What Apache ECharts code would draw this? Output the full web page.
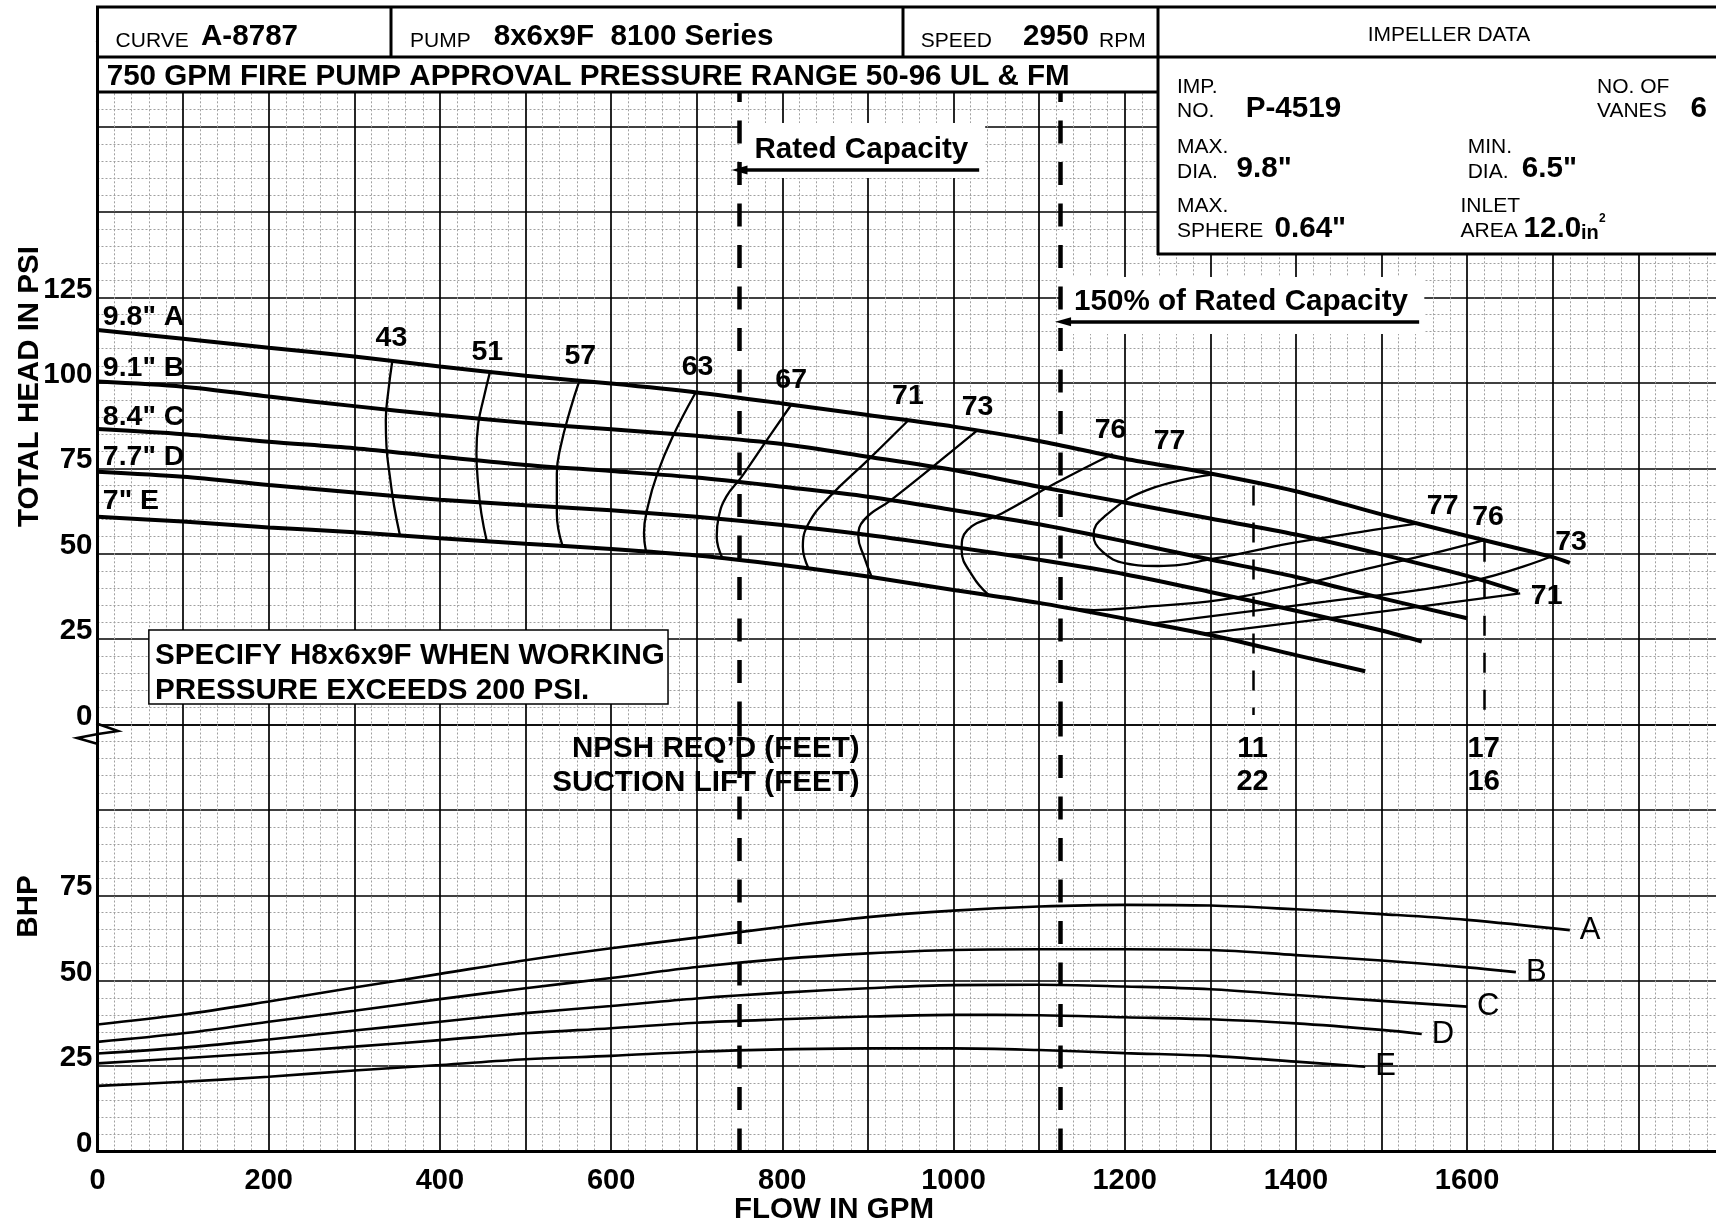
<!DOCTYPE html>
<html>
<head>
<meta charset="utf-8">
<script src="https://cdn.jsdelivr.net/npm/echarts/dist/echarts.min.js"></script>
<style>
  html, body { margin: 0; padding: 0; background: #fff; overflow: hidden; width: 1716px; height: 1221px; }
  #chart { width: 1730px; height: 1221px; }
</style>
</head>
<body>
<div id="chart"></div>
<script>
// ---------------- DATA ----------------
// Head (psi) vs flow (GPM) for each impeller diameter
const headA = [[0,115.5],[100,112.9],[200,110.3],[300,107.7],[400,104.8],[500,102.1],[600,99.8],[700,97.2],[800,94],[900,90.6],[1000,87.2],[1100,83],[1200,77.8],[1300,73.5],[1400,68.3],[1500,61.5],[1600,55.2],[1700,49],[1720,47.3]];
const headB = [[0,100.4],[100,98.9],[200,96],[300,93.2],[400,90.6],[500,88.3],[600,86.4],[700,84.5],[800,82.1],[900,78.4],[1000,74.5],[1100,69.6],[1200,65],[1300,60.3],[1400,55.6],[1500,49.8],[1600,43.5],[1660,38.9]];
const headC = [[0,86.5],[100,85],[200,82.8],[300,80.9],[400,78.4],[500,76],[600,74.2],[700,72.3],[800,69.6],[900,66.7],[1000,62.8],[1100,58.6],[1200,53.6],[1300,48.3],[1400,43.2],[1500,37],[1600,31.1]];
const headD = [[0,74],[100,72.5],[200,70.1],[300,67.9],[400,65.8],[500,64.2],[600,62.7],[700,60.8],[800,58.4],[900,55.5],[1000,52],[1100,48.2],[1200,44],[1300,38.8],[1400,33.3],[1500,27.5],[1547,24.3]];
const headE = [[0,60.8],[100,59.4],[200,57.7],[300,56.3],[400,54.5],[500,52.9],[600,51.4],[700,49.5],[800,46.7],[900,43.3],[1000,39.4],[1100,35.6],[1200,31],[1300,26.2],[1400,20.3],[1481,15.6]];
const headNames = ['9.8" A','9.1" B','8.4" C','7.7" D','7" E'];
const headLabelPos = [[6.8,120.4],[6.8,105.2],[6.8,91.1],[6.8,79.4],[6.8,66.5]];

// Efficiency contours (GPM, psi)
const eff43 = [[344.4,106.4],[339.9,97.9],[336.8,89.1],[337.6,81.3],[342.1,71.6],[346.6,63.8],[353.3,55.4]];
const eff51 = [[458.3,103.0],[451.6,96],[444.9,88.2],[442.7,79.4],[444.9,69.6],[448.4,61.8],[454.8,53.6]];
const eff57 = [[563.3,100.9],[552.2,92.1],[541,81.3],[536.6,73.5],[536.6,61.8],[543.3,52.3]];
const eff63 = [[698.8,97.2],[672,84.3],[654.1,73.5],[642.9,63.8],[638.4,56],[640.7,50.7]];
const eff67 = [[810.5,93.6],[779.3,82.3],[752.5,72.5],[734.6,66.7],[725.7,60.8],[723.4,55],[730.1,48.7]];
const eff71 = [[947,89.0],[900,77.4],[855.3,66.7],[830.8,58.9],[824,52],[830.8,45.6]];
const eff71b = [[1292.8,26.6],[1476.5,32.3],[1662,38.4]];
const eff73 = [[1027.4,86.0],[976,75.5],[926.9,65.7],[895.6,59.9],[888.8,55],[895.6,49.1],[904.4,43.2]];
const eff73b = [[1234.5,29.6],[1434.8,36],[1601.7,41.8],[1697.6,49.1]];
const eff76 = [[1186,79.2],[1119,70.6],[1056.4,61.8],[1016.2,56.9],[1009.5,51.1],[1022.8,43.3],[1040.7,38]];
const eff76b = [[1126,34.4],[1164,33.5],[1226,34.5],[1310,36.4],[1393,40.3],[1476.5,45.2],[1560,50.1],[1620,54.0]];
const eff77 = [[1305.6,73.3],[1226,68.6],[1176,60.8],[1163.6,55.5],[1174,50.6],[1201,47.2],[1238.8,46.4],[1305.5,48.6],[1393,53],[1476.5,56.4],[1543,58.9]];
const effLabels = [[344,113.8,'43'],[456,109.8,'51'],[564.6,108.7,'57'],[701.5,105.2,'63'],[811,101.6,'67'],[947.4,97,'71'],[1028.6,93.6,'73'],[1184,86.9,'76'],[1253,83.6,'77'],[1572,64.8,'77'],[1625,61.3,'76'],[1722,54,'73'],[1693.5,38.4,'71']];

// Brake horsepower vs flow
const bhpA = [[0,37.2],[100,40.1],[200,43.9],[300,48],[400,52],[500,56],[600,59.5],[700,62.6],[800,65.8],[900,68.6],[1000,70.5],[1100,71.7],[1200,72.2],[1300,72],[1400,70.9],[1500,69.5],[1600,67.8],[1720,64.8]];
const bhpB = [[0,32.1],[100,34.6],[200,38],[300,41.2],[400,44.6],[500,47.8],[600,50.8],[700,54],[800,56.4],[900,58],[1000,59],[1100,59.2],[1200,59.2],[1300,59],[1400,57.5],[1500,55.9],[1600,53.9],[1657,52.5]];
const bhpC = [[0,28.7],[100,30.4],[200,32.8],[300,35.4],[400,38],[500,40.5],[600,42.6],[700,44.8],[800,46.5],[900,47.8],[1000,48.7],[1100,48.8],[1200,48.3],[1300,47.5],[1400,45.8],[1500,44.1],[1600,42.4]];
const bhpD = [[0,25.8],[100,27.3],[200,28.9],[300,30.7],[400,32.6],[500,34.6],[600,36.1],[700,37.7],[800,38.7],[900,39.5],[1000,40],[1100,39.9],[1200,39.3],[1300,38.7],[1400,37.5],[1500,35.6],[1547,34.4]];
const bhpE = [[0,19.2],[100,20.4],[200,21.9],[300,23.7],[400,25.3],[500,27],[600,28],[700,29.2],[800,29.9],[900,30.2],[1000,30.2],[1100,29.7],[1200,28.8],[1300,28],[1400,26.3],[1481,24.8]];
const bhpNames = ['A','B','C','D','E'];

// Capacity reference lines
const ratedFlow = 750;
const overloadFlow = 1125;
// NPSH required / suction lift at flows
const npshFlows = [1350, 1620];
const npshTopHead = [70, 53.5];
const npshBottomHead = [2.8, 2.8];
const npshReq = ['11', '17'];
const suctionLift = ['22', '16'];
const npshRowBhp = [118.6, 108.8];
const npshTitles = ['NPSH REQ\u2019D (FEET)', 'SUCTION LIFT (FEET)'];
const npshTitleFlow = 891;

// Axis ticks
const flowLabelMax = 1600;
const headLabelMax = 125;
const bhpLabelMax = 75;

// Annotation texts
const ratedText = 'Rated Capacity';
const ratedTextPos = [768, 169.4];
const ratedArrow = [[1030, 162.3], [750, 162.3]];
const ratedBox = [[750, 176.1], [1037, 160]];
const overText = '150% of Rated Capacity';
const overTextPos = [1141.5, 124.7];
const overArrow = [[1544, 117.9], [1128, 117.9]];
const overBox = [[1125, 131], [1550, 114.3]];
const specifyText = 'SPECIFY H8x6x9F WHEN WORKING\nPRESSURE EXCEEDS 200 PSI.';
const specifyBox = [[60, 27.7], [666.5, 6]];

// ---------------- LAYOUT ----------------
const FONT = '"Liberation Sans", Arial, Helvetica, sans-serif';
const X0 = 97.5, PX_GPM = 0.856, Y0 = 724.5, PX_U = 3.416;
const XMAX = 1900, HMAX = 200, BMAX = 125;
const BOLD = 29.6;
const W = 1730;

const chart = echarts.init(document.getElementById('chart'), null, {renderer: 'canvas', width: W, height: 1221});

const majorSplit = {show: true, lineStyle: {color: '#000', width: 1.7}};
const minorSplit = {show: true, lineStyle: {color: '#a0a0a0', width: 1, type: [2, 2]}};

function xAxisCfg(gi, showLabels) {
  return {
    type: 'value', gridIndex: gi, min: 0, max: XMAX, interval: 100,
    axisLine: {show: showLabels, onZero: false, lineStyle: {color: '#000', width: 3}},
    axisTick: {show: false},
    axisLabel: showLabels ? {
      show: true, margin: 14, lineHeight: 30, color: '#000', fontSize: 29, fontWeight: 'bold', fontFamily: FONT,
      formatter: v => (v <= flowLabelMax && v % 200 === 0) ? String(v) : ''
    } : {show: false},
    splitLine: majorSplit,
    minorTick: {show: false, splitNumber: 5},
    minorSplitLine: minorSplit
  };
}
function yAxisCfg(gi, max, labelMax) {
  return {
    type: 'value', gridIndex: gi, min: 0, max: max, interval: 25,
    axisLine: {show: true, onZero: false, lineStyle: {color: '#000', width: 3}},
    axisTick: {show: false},
    axisLabel: {
      show: true, margin: 5, color: '#000', fontSize: 29.5, fontWeight: 'bold', fontFamily: FONT,
      verticalAlign: 'bottom', lineHeight: 16,
      formatter: v => v <= labelMax ? String(v) : ''
    },
    splitLine: majorSplit,
    minorTick: {show: false, splitNumber: 5},
    minorSplitLine: minorSplit
  };
}

function line(name, data, width, gi, extra) {
  return Object.assign({
    type: 'line', name: name, data: data, xAxisIndex: gi, yAxisIndex: gi,
    showSymbol: false, symbol: 'none', smooth: 0.3, silent: true, z: 4,
    lineStyle: {color: '#000', width: width}
  }, extra || {});
}
function textSeries(gi, items, labelCfg) {
  return {
    type: 'scatter', xAxisIndex: gi, yAxisIndex: gi, silent: true, z: 8,
    symbol: 'circle', symbolSize: 1, itemStyle: {color: 'rgba(0,0,0,0)', opacity: 1},
    data: items.map(it => ({name: it[2], value: [it[0], it[1]]})),
    label: Object.assign({show: true, position: [0, 0], offset: [0, 3], opacity: 1, formatter: '{b}', color: '#000',
      textBorderWidth: 0, fontFamily: FONT, fontSize: BOLD, fontWeight: 'bold', align: 'center', verticalAlign: 'middle'}, labelCfg || {})
  };
}

const series = [];
// white boxes behind texts
series.push({
  type: 'line', xAxisIndex: 0, yAxisIndex: 0, data: [], z: 1, silent: true,
  markArea: {
    silent: true,
    label: {show: false},
    data: [
      [{coord: ratedBox[0], itemStyle: {color: '#fff'}}, {coord: ratedBox[1]}],
      [{coord: overBox[0], itemStyle: {color: '#fff'}}, {coord: overBox[1]}],
      [{name: specifyText, coord: specifyBox[0], itemStyle: {color: '#fff', borderColor: '#000', borderWidth: 1.5},
        label: {show: true, position: 'insideLeft', distance: 7, offset: [0, 6], color: '#000', fontFamily: FONT, fontSize: BOLD, fontWeight: 'bold', lineHeight: 35, align: 'left'}},
       {coord: specifyBox[1]}]
    ]
  }
});
// head curves
[headA, headB, headC, headD, headE].forEach((d, i) => series.push(line('H' + bhpNames[i], d, 4, 0, {smooth: 0.3})));
// efficiency contours
[eff43, eff51, eff57, eff63, eff67, eff71, eff71b, eff73, eff73b, eff76, eff76b, eff77].forEach((d, i) =>
  series.push(line('eff' + i, d, 2.3, 0, {smooth: 0.45, z: 3})));
// BHP curves
[bhpA, bhpB, bhpC, bhpD, bhpE].forEach((d, i) => series.push(line(bhpNames[i], d, 2.6, 1, {
  smooth: 0.35,
  endLabel: {show: true, formatter: '{a}', distance: 0, padding: [15, 0, 0, 10], color: '#000', fontFamily: FONT, fontSize: 31, fontWeight: 'normal'}
})));
// rated / 150% dashed vertical lines
const capLine = gi => ({
  type: 'line', xAxisIndex: gi, yAxisIndex: gi, data: [], z: 6, silent: true,
  markLine: {
    silent: true, symbol: 'none', label: {show: false},
    lineStyle: {color: '#000', width: 4.5, type: [23, 18.5]},
    data: [{xAxis: ratedFlow}, {xAxis: overloadFlow}]
  }
});
series.push(capLine(0), capLine(1));
// NPSH short dashed lines
series.push({
  type: 'line', xAxisIndex: 0, yAxisIndex: 0, data: [], z: 6, silent: true,
  markLine: {
    silent: true, symbol: 'none', label: {show: false},
    lineStyle: {color: '#000', width: 2.5, type: [20, 17]},
    data: npshFlows.map((f, i) => [{coord: [f, npshTopHead[i]]}, {coord: [f, npshBottomHead[i]]}])
  }
});
// arrows
series.push({
  type: 'line', xAxisIndex: 0, yAxisIndex: 0, data: [], z: 6, silent: true,
  markLine: {
    silent: true, symbol: ['none', 'triangle'], symbolSize: [9, 16], label: {show: false},
    lineStyle: {color: '#000', width: 3.6, type: 'solid'},
    data: [[{coord: ratedArrow[0]}, {coord: ratedArrow[1]}], [{coord: overArrow[0]}, {coord: overArrow[1]}]]
  }
});
// text labels
series.push(textSeries(0, effLabels, {fontSize: 28.5}));
series.push(textSeries(0, headLabelPos.map((p, i) => [p[0], p[1], headNames[i]]), {align: 'left', fontSize: 28.5, offset: [0, 4]}));
series.push(textSeries(0, [[ratedTextPos[0], ratedTextPos[1], ratedText], [overTextPos[0], overTextPos[1], overText]], {align: 'left', offset: [0, 4]}));
series.push(textSeries(1, npshFlows.map((f, i) => [f, npshRowBhp[0], npshReq[i]]).concat(npshFlows.map((f, i) => [f, npshRowBhp[1], suctionLift[i]])), {fontSize: 29}));
series.push(textSeries(1, npshTitles.map((t, i) => [npshTitleFlow, npshRowBhp[i], t]), {align: 'right'}));

// ---------------- HEADER / TITLES (graphic) ----------------
const Z = 100;
function T(x, y, text, size, bold, align, extra) {
  return Object.assign({type: 'text', x: x, y: y + (bold ? 2.5 : 1.5), z: Z + 2, silent: true,
    style: {text: text, fill: '#000', font: (bold ? 'bold ' : '') + size + 'px ' + FONT, align: align || 'left', verticalAlign: 'middle'}}, extra || {});
}
function L(x1, y1, x2, y2, w) {
  return {type: 'line', z: Z + 1, silent: true, shape: {x1: x1, y1: y1, x2: x2, y2: y2}, style: {stroke: '#000', lineWidth: w || 3}};
}
const graphics = [
  {type: 'rect', z: Z, silent: true, shape: {x: 96, y: 0, width: W, height: 92}, style: {fill: '#fff'}},
  {type: 'rect', z: Z, silent: true, shape: {x: 1158, y: 0, width: W, height: 254}, style: {fill: '#fff'}},
  L(96, 7, W, 7), L(97.5, 6, 97.5, 93), L(96, 57, W, 57), L(96, 92, 1158, 92),
  L(391, 7, 391, 57), L(903, 7, 903, 57), L(1158, 6, 1158, 255), L(1157, 254, W, 254),
  T(115.6, 39.5, 'CURVE', 21, false), T(201, 34.2, 'A-8787', BOLD, true),
  T(410, 39.5, 'PUMP', 21, false), T(493.7, 34.2, '8x6x9F  8100 Series', BOLD, true),
  T(920.7, 39.5, 'SPEED', 21, false), T(1023, 34.2, '2950', BOLD, true), T(1099, 39.5, 'RPM', 21, false),
  T(1449, 34, 'IMPELLER DATA', 21, false, 'center'),
  T(106.7, 74.2, '750 GPM FIRE PUMP APPROVAL PRESSURE RANGE 50-96 UL & FM', BOLD, true),
  T(1177, 86, 'IMP.', 21, false), T(1177, 110, 'NO.', 21, false), T(1245.7, 106.7, 'P-4519', BOLD, true),
  T(1597, 86, 'NO. OF', 21, false), T(1597, 110, 'VANES', 21, false), T(1690.4, 106.7, '6', BOLD, true),
  T(1177, 146, 'MAX.', 21, false), T(1177, 171, 'DIA.', 21, false), T(1236.6, 166.7, '9.8"', BOLD, true),
  T(1467.7, 146, 'MIN.', 21, false), T(1467.7, 171, 'DIA.', 21, false), T(1521.8, 166.7, '6.5"', BOLD, true),
  T(1177, 205, 'MAX.', 21, false), T(1177, 230, 'SPHERE', 21, false), T(1274.5, 226, '0.64"', BOLD, true),
  T(1460.5, 205, 'INLET', 21, false), T(1460.5, 230, 'AREA', 21, false), T(1523.6, 226, '12.0', BOLD, true),
  T(1581, 231, 'in', 20, true), T(1599, 216, '2', 12, true),
  // axis titles
  T(29.5, 384, 'TOTAL HEAD IN PSI', 29.5, true, 'center', {rotation: Math.PI / 2}),
  T(28.5, 904, 'BHP', 29.5, true, 'center', {rotation: Math.PI / 2}),
  T(834, 1207, 'FLOW IN GPM', 29.5, true, 'center'),
  // axis break mark
  {type: 'polyline', z: Z + 1, silent: true, shape: {points: [[98, 724], [118, 731], [98, 734], [77, 738], [98, 744]]}, style: {stroke: '#000', lineWidth: 2.5, fill: null}}
];

chart.setOption({
  animation: false,
  backgroundColor: '#fff',
  grid: [
    {left: X0, top: Y0 - HMAX * PX_U, width: XMAX * PX_GPM, height: HMAX * PX_U},
    {left: X0, top: Y0, width: XMAX * PX_GPM, height: BMAX * PX_U}
  ],
  xAxis: [xAxisCfg(0, false), xAxisCfg(1, true)],
  yAxis: [yAxisCfg(0, HMAX, headLabelMax), yAxisCfg(1, BMAX, bhpLabelMax)],
  series: series,
  graphic: {elements: graphics}
});
</script>
</body>
</html>
